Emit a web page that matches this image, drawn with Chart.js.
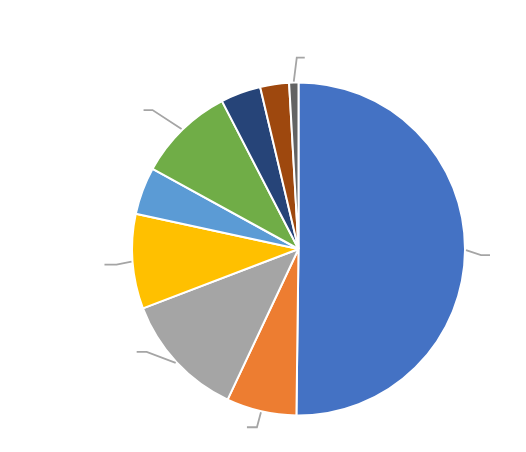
<!DOCTYPE html>
<html>
<head>
<meta charset="utf-8">
<script src="https://cdn.jsdelivr.net/npm/chart.js@4"></script>
<style>
html,body{margin:0;padding:0;background:#fff;}
#wrap{width:526px;height:452px;position:relative;}
</style>
</head>
<body>
<div id="wrap"><canvas id="c" width="526" height="452"></canvas></div>
<script>
// Data (percent shares, clockwise from 12 o'clock)
const categories = ["A","B","C","D","E","F","G","H","I"];
const values = [50.2, 6.8, 12.2, 9.2, 4.6, 9.4, 3.9, 2.8, 0.9];
const colors = ["#4472C4","#ED7D31","#A5A5A5","#FFC000","#5B9BD5","#70AD47","#264478","#9E480E","#636363"];
// which slices carry a leader line
const hasLeader = [true,true,true,true,false,true,false,false,true];

// leader line styling: elbow offset from slice edge point, and horizontal run
const leaderStyle = {
  0:{dx:15,dy:5,run:9},
  1:{dx:-4,dy:15,run:-10},
  2:{dx:-29,dy:-11,run:-10},
  3:{dx:-15,dy:3,run:-12},
  5:{dx:-29,dy:-19,run:-9},
  8:{dx:3,dy:-24,run:8}
};

const leaderPlugin = {
  id:'leaders',
  afterDatasetsDraw(chart){
    const ctx = chart.ctx;
    const meta = chart.getDatasetMeta(0);
    ctx.save();
    ctx.strokeStyle = '#A5A5A5';
    ctx.lineWidth = 1.8;
    meta.data.forEach((arc,i)=>{
      if(!hasLeader[i]) return;
      const s = leaderStyle[i];
      const mid = (arc.startAngle + arc.endAngle)/2;
      const r = arc.outerRadius + 1;
      const x0 = arc.x + Math.cos(mid)*r;
      const y0 = arc.y + Math.sin(mid)*r;
      const x1 = x0 + s.dx, y1 = y0 + s.dy;
      ctx.beginPath();
      ctx.moveTo(x0,y0);
      ctx.lineTo(x1,y1);
      ctx.lineTo(x1 + s.run, y1);
      ctx.stroke();
    });
    ctx.restore();
  }
};

new Chart(document.getElementById('c'),{
  type:'pie',
  data:{
    labels:categories,
    datasets:[{
      data:values,
      backgroundColor:colors,
      borderColor:'#ffffff',
      borderWidth:2
    }]
  },
  options:{
    responsive:false,
    animation:false,
    layout:{padding:{top:81.5,bottom:35.5,left:131,right:60}},
    plugins:{legend:{display:false},tooltip:{enabled:false}}
  },
  plugins:[leaderPlugin]
});
</script>
</body>
</html>
